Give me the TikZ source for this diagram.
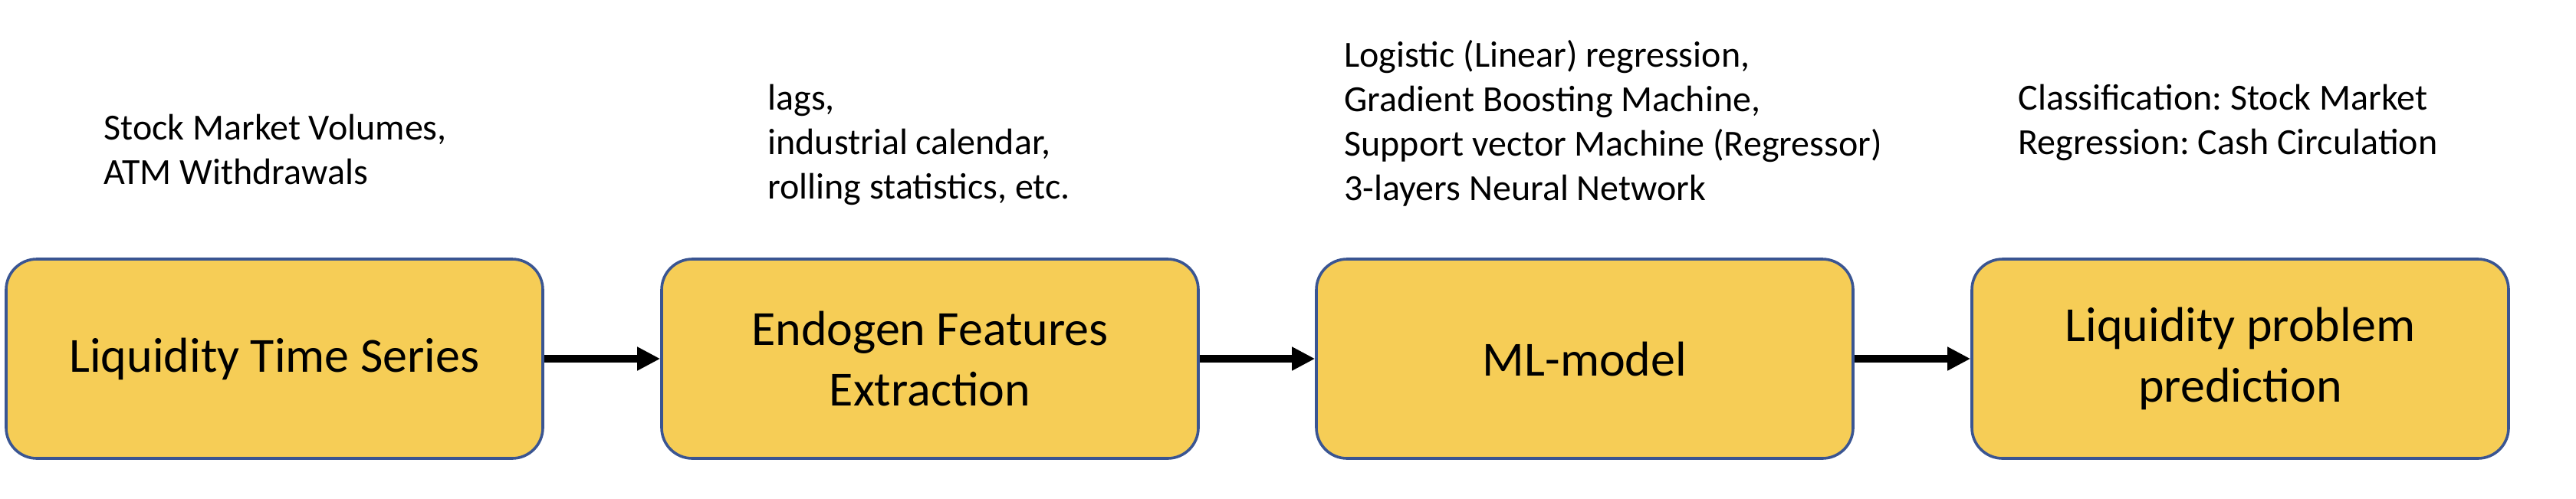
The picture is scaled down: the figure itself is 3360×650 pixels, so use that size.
\documentclass[tikz,border=0pt]{standalone}
\usepackage{fontspec}
\setmainfont{Carlito}
\usetikzlibrary{arrows.meta}
\definecolor{boxfill}{HTML}{F6CD56}
\definecolor{boxline}{HTML}{3A5592}
\frenchspacing
\begin{document}
\begin{tikzpicture}[x=0.5pt,y=-0.5pt,
  stage/.style={draw=boxline, fill=boxfill, line width=1.8pt, rounded corners=20pt,
    minimum width=350pt, minimum height=130pt, align=center, inner sep=0pt,
    font=\fontsize{32}{39.5}\selectfont},
  note/.style={anchor=base west, align=left, inner sep=0pt,
    font=\fontsize{24}{29}\selectfont},
  flow/.style={line width=5pt, -{Triangle[length=15pt,width=14.5pt]}}]
\useasboundingbox (0,0) rectangle (3360,650);
\node[stage] (s1) at (358,468) {Liquidity Time Series};
\node[stage] (s2) at (1213,468) {Endogen Features\\Extraction};
\node[stage] (s3) at (2067,468) {ML-model};
\node[stage] (s4) at (2922,468) {Liquidity problem\\prediction};
\draw[flow] (s1) -- (s2);
\draw[flow] (s2) -- (s3);
\draw[flow] (s3) -- (s4);
\node[note] (n1) at (135,240) {Stock Market Volumes,\\ATM Withdrawals};
\node[note] (n2) at (1001,259) {lags,\\industrial calendar,\\rolling statistics, etc.};
\node[note] (n3) at (1753,261) {Logistic (Linear) regression,\\Gradient Boosting Machine,\\Support vector Machine (Regressor)\\3-layers Neural Network};
\node[note] (n4) at (2632,201) {Classification: Stock Market\\Regression: Cash Circulation};
\end{tikzpicture}
\end{document}
